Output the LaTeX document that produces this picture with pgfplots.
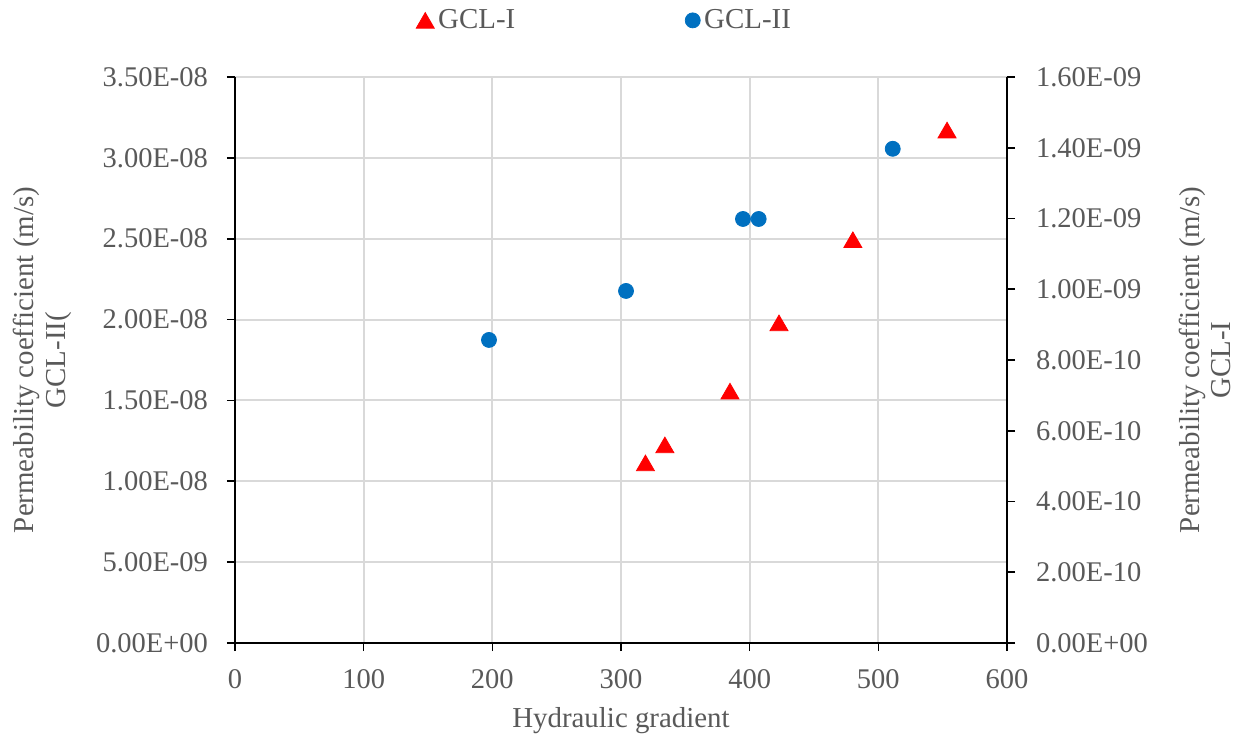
\documentclass[border=0pt]{standalone}
\usepackage{fontspec}
\setmainfont{Liberation Serif}
\usepackage{pgfplots}
\pgfplotsset{compat=1.18}
\definecolor{txt}{HTML}{595959}
\definecolor{gridc}{HTML}{D9D9D9}
\definecolor{gclred}{HTML}{FF0000}
\definecolor{gclblue}{HTML}{0070C0}
\begin{document}
\begin{tikzpicture}
\path[use as bounding box] (0bp,0bp) rectangle (618.5bp,369bp);
\pgfplotsset{
  common/.style={
    at={(117.5bp,47.5bp)}, anchor=south west,
    scale only axis, width=386bp, height=283bp,
    xmin=0, xmax=600,
    tick align=outside, major tick length=4bp,
    tick style={black, line width=0.8bp},
    axis line style={black, line width=0.9bp},
    tick label style={text=txt, font=\fontsize{14.3}{16}\selectfont},
    /pgf/number format/assume math mode=true,
    scaled y ticks=false,
    label style={text=txt, font=\fontsize{14.5}{16}\selectfont, align=center},
  }
}
\begin{axis}[common,
  axis y line*=left, axis x line*=bottom,
  x axis line style={-}, y axis line style={-},
  ymin=0, ymax=3.5e-8,
  xtick={0,100,200,300,400,500,600},
  ytick={0,0.5e-8,1e-8,1.5e-8,2e-8,2.5e-8,3e-8,3.5e-8},
  yticklabels={0.00E+00,5.00E-09,1.00E-08,1.50E-08,2.00E-08,2.50E-08,3.00E-08,3.50E-08},
  xticklabel style={yshift=-6bp},
  yticklabel style={xshift=-6bp},
  xmajorgrids, ymajorgrids, grid style={gridc, line width=1bp},
  xlabel={Hydraulic gradient},
  xlabel style={at={(axis description cs:0.5,-0.137)}, anchor=center},
  ylabel={Permeability coefficient (m/s)\\GCL-II(},
  ylabel style={at={(axis description cs:-0.250,0.5)}, rotate=0, anchor=center},
]
\addplot[only marks, mark=*, mark size=3.75bp, color=gclblue, mark options={draw=gclblue, fill=gclblue}]
  coordinates {(197.4,1.874e-8) (303.9,2.177e-8) (394.8,2.622e-8) (407,2.622e-8) (511.2,3.056e-8)};
\end{axis}
\begin{axis}[common,
  axis y line*=right, axis x line=none,
  y axis line style={-},
  ymin=0, ymax=1.6e-9,
  ytick={0,2e-10,4e-10,6e-10,8e-10,10e-10,12e-10,14e-10,16e-10},
  yticklabels={0.00E+00,2.00E-10,4.00E-10,6.00E-10,8.00E-10,1.00E-09,1.20E-09,1.40E-09,1.60E-09},
  yticklabel style={xshift=7bp},
  ylabel={Permeability coefficient (m/s)\\GCL-I},
  ylabel style={at={(axis description cs:1.2565,0.5)}, rotate=0, anchor=center},
  legend style={at={(axis description cs:0.48,1.10)}, anchor=center, draw=none, fill=none,
    legend columns=2, font=\fontsize{14.5}{16}\selectfont, text=txt,
    /tikz/every even column/.append style={column sep=83bp},
    inner sep=0pt, cells={anchor=west}},
  legend image code/.code={\draw[#1] plot coordinates {(0bp,0bp)};},
]
\addplot[only marks, mark=triangle*, mark size=5.2bp, color=gclred, mark options={draw=gclred, fill=gclred, yshift=-1.3bp}]
  coordinates {(319.0,0.509e-9) (334.1,0.560e-9) (384.7,0.712e-9) (422.8,0.905e-9) (480.2,1.140e-9) (553.4,1.450e-9)};
\addlegendentry{GCL-I}
\addlegendimage{only marks, mark=*, mark size=3.75bp, color=gclblue, mark options={draw=gclblue, fill=gclblue}}
\addlegendentry{GCL-II}
\end{axis}
\end{tikzpicture}
\end{document}
